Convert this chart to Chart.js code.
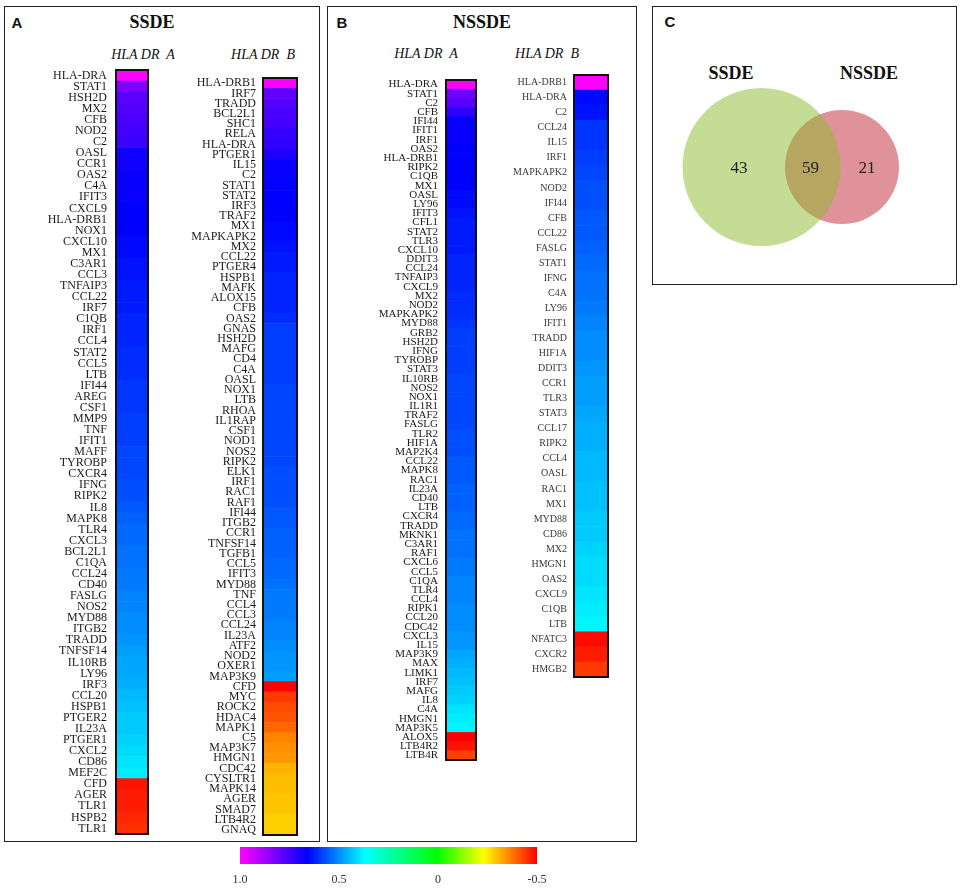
<!DOCTYPE html>
<html>
<head>
<meta charset="utf-8">
<script src="https://cdn.jsdelivr.net/npm/chart.js@4.4.1/dist/chart.umd.min.js"></script>
<style>
  html, body { margin: 0; padding: 0; background: #fff; }
  #fig { position: relative; width: 963px; height: 889px; overflow: hidden;
         font-family: 'Liberation Serif', 'Times New Roman', serif; color: #111; }
  .panel { position: absolute; border: 1.5px solid #222; box-sizing: border-box; }
  .txt { position: absolute; white-space: nowrap; transform: translate(-50%, -50%); }
  .letter { font-family: 'Liberation Sans', Arial, sans-serif; font-weight: bold; font-size: 15px; }
  .title { font-weight: bold; font-size: 18px; }
  .sub { font-style: italic; font-size: 14px; }
  .box { position: absolute; }
</style>
</head>
<body>
<div id="fig">
  <!-- panel frames -->
  <div class="panel" style="left:4px;top:6px;width:316px;height:836px"></div>
  <div class="panel" style="left:327px;top:6px;width:310px;height:836px"></div>
  <div class="panel" style="left:652px;top:6px;width:305px;height:279px"></div>

  <div class="txt letter" style="left:17px;top:22px">A</div>
  <div class="txt title"  style="left:152px;top:22px">SSDE</div>
  <div class="txt sub"    style="left:143px;top:55px">HLA DR&nbsp; A</div>
  <div class="txt sub"    style="left:263px;top:55px">HLA DR&nbsp; B</div>

  <div class="txt letter" style="left:342px;top:22px">B</div>
  <div class="txt title"  style="left:482px;top:22px">NSSDE</div>
  <div class="txt sub"    style="left:426px;top:54px">HLA DR&nbsp; A</div>
  <div class="txt sub"    style="left:547px;top:54px">HLA DR&nbsp; B</div>

  <div class="txt letter" style="left:670px;top:21px">C</div>
  <div class="txt title"  style="left:731px;top:73px">SSDE</div>
  <div class="txt title"  style="left:869px;top:73px">NSSDE</div>

  <div class="box" style="left:8px;top:68px;width:142px;height:768px"><canvas id="c-ssde-a"></canvas></div>
  <div class="box" style="left:150px;top:76px;width:149px;height:761px"><canvas id="c-ssde-b"></canvas></div>
  <div class="box" style="left:332px;top:78px;width:146px;height:684px"><canvas id="c-nssde-a"></canvas></div>
  <div class="box" style="left:480px;top:73px;width:130px;height:606px"><canvas id="c-nssde-b"></canvas></div>
  <div class="box" style="left:655px;top:80px;width:300px;height:174px"><canvas id="c-venn"></canvas></div>
  <div class="box" style="left:216px;top:846px;width:345px;height:43px"><canvas id="c-bar"></canvas></div>
</div>

<script>
const ssdeA_genes = ['HLA-DRA','STAT1','HSH2D','MX2','CFB','NOD2','C2','OASL','CCR1','OAS2','C4A','IFIT3',
  'CXCL9','HLA-DRB1','NOX1','CXCL10','MX1','C3AR1','CCL3','TNFAIP3','CCL22','IRF7','C1QB','IRF1','CCL4',
  'STAT2','CCL5','LTB','IFI44','AREG','CSF1','MMP9','TNF','IFIT1','MAFF','TYROBP','CXCR4','IFNG','RIPK2',
  'IL8','MAPK8','TLR4','CXCL3','BCL2L1','C1QA','CCL24','CD40','FASLG','NOS2','MYD88','ITGB2','TRADD',
  'TNFSF14','IL10RB','LY96','IRF3','CCL20','HSPB1','PTGER2','IL23A','PTGER1','CXCL2','CD86','MEF2C',
  'CFD','AGER','TLR1','HSPB2','TLR1'];
const ssdeA_values = [1.00,0.83,0.78,0.77,0.76,0.75,0.74,0.68,0.68,0.67,0.67,0.67,
  0.66,0.66,0.66,0.65,0.65,0.64,0.64,0.63,0.63,0.63,0.62,0.62,0.62,
  0.61,0.61,0.61,0.60,0.60,0.60,0.59,0.59,0.59,0.58,0.58,0.58,0.57,0.57,
  0.56,0.55,0.54,0.54,0.53,0.53,0.52,0.52,0.51,0.51,0.50,0.50,0.49,
  0.48,0.47,0.47,0.46,0.45,0.44,0.43,0.43,0.42,0.41,0.40,0.39,
  -0.48,-0.47,-0.47,-0.46,-0.45];

const ssdeB_genes = ['HLA-DRB1','IRF7','TRADD','BCL2L1','SHC1','RELA','HLA-DRA','PTGER1','IL15','C2',
  'STAT1','STAT2','IRF3','TRAF2','MX1','MAPKAPK2','MX2','CCL22','PTGER4','HSPB1','MAFK','ALOX15','CFB',
  'OAS2','GNAS','HSH2D','MAFG','CD4','C4A','OASL','NOX1','LTB','RHOA','IL1RAP','CSF1','NOD1','NOS2',
  'RIPK2','ELK1','IRF1','RAC1','RAF1','IFI44','ITGB2','CCR1','TNFSF14','TGFB1','CCL5','IFIT3','MYD88',
  'TNF','CCL4','CCL3','CCL24','IL23A','ATF2','NOD2','OXER1','MAP3K9','CFD','MYC','ROCK2','HDAC4',
  'MAPK1','C5','MAP3K7','HMGN1','CDC42','CYSLTR1','MAPK14','AGER','SMAD7','LTB4R2','GNAQ'];
const ssdeB_values = [1.00,0.79,0.77,0.76,0.75,0.73,0.72,0.70,0.67,0.67,
  0.66,0.66,0.66,0.66,0.65,0.65,0.64,0.63,0.63,0.62,0.62,0.62,0.62,
  0.61,0.59,0.59,0.59,0.59,0.59,0.59,0.58,0.58,0.58,0.58,0.58,0.58,0.58,
  0.58,0.57,0.57,0.57,0.57,0.56,0.56,0.55,0.55,0.55,0.54,0.54,0.53,
  0.52,0.52,0.52,0.51,0.51,0.50,0.49,0.49,0.48,-0.50,-0.44,-0.42,-0.41,
  -0.39,-0.36,-0.35,-0.34,-0.31,-0.30,-0.30,-0.29,-0.29,-0.28,-0.28];

const nssdeA_genes = ['HLA-DRA','STAT1','C2','CFB','IFI44','IFIT1','IRF1','OAS2','HLA-DRB1','RIPK2',
  'C1QB','MX1','OASL','LY96','IFIT3','CFL1','STAT2','TLR3','CXCL10','DDIT3','CCL24','TNFAIP3','CXCL9',
  'MX2','NOD2','MAPKAPK2','MYD88','GRB2','HSH2D','IFNG','TYROBP','STAT3','IL10RB','NOS2','NOX1','IL1R1',
  'TRAF2','FASLG','TLR2','HIF1A','MAP2K4','CCL22','MAPK8','RAC1','IL23A','CD40','LTB','CXCR4','TRADD',
  'MKNK1','C3AR1','RAF1','CXCL6','CCL5','C1QA','TLR4','CCL4','RIPK1','CCL20','CDC42','CXCL3','IL15',
  'MAP3K9','MAX','LIMK1','IRF7','MAFG','IL8','C4A','HMGN1','MAP3K5','ALOX5','LTB4R2','LTB4R'];
const nssdeA_values = [1.00,0.81,0.78,0.72,0.67,0.67,0.67,0.66,0.66,0.66,
  0.66,0.66,0.65,0.65,0.64,0.63,0.63,0.63,0.63,0.62,0.62,0.62,0.62,
  0.61,0.61,0.61,0.60,0.59,0.59,0.59,0.59,0.59,0.58,0.58,0.58,0.58,
  0.58,0.58,0.57,0.57,0.57,0.56,0.56,0.56,0.55,0.55,0.55,0.54,0.54,
  0.53,0.53,0.53,0.52,0.52,0.51,0.51,0.51,0.50,0.50,0.50,0.49,0.49,
  0.47,0.46,0.45,0.44,0.43,0.42,0.40,0.39,0.38,-0.50,-0.48,-0.43];

const nssdeB_genes = ['HLA-DRB1','HLA-DRA','C2','CCL24','IL15','IRF1','MAPKAPK2','NOD2','IFI44','CFB',
  'CCL22','FASLG','STAT1','IFNG','C4A','LY96','IFIT1','TRADD','HIF1A','DDIT3','CCR1','TLR3','STAT3',
  'CCL17','RIPK2','CCL4','OASL','RAC1','MX1','MYD88','CD86','MX2','HMGN1','OAS2','CXCL9','C1QB','LTB',
  'NFATC3','CXCR2','HMGB2'];
const nssdeB_values = [1.00,0.65,0.64,0.60,0.60,0.59,0.58,0.57,0.57,0.56,
  0.56,0.55,0.54,0.53,0.53,0.52,0.51,0.50,0.50,0.49,0.48,0.48,0.47,
  0.46,0.46,0.45,0.45,0.44,0.44,0.43,0.43,0.42,0.41,0.41,0.40,0.39,0.38,
  -0.49,-0.47,-0.44];

const scaleTicks = [1.0, 0.5, 0, -0.5];

const vennSets = ['SSDE', 'NSSDE'];
const vennOnly = [43, 21];
const vennShared = [59];

/* ---------- colour scale: magenta (1.0) -> blue -> cyan -> green (0) -> yellow -> red (-0.5) ---------- */
const CMAP = [
  [1.0,  [255, 0, 255]],
  [0.66, [0, 0, 255]],
  [0.37, [0, 255, 255]],
  [0,    [0, 255, 0]],
  [-0.23,[255, 255, 0]],
  [-0.5, [255, 0, 0]],
];
function colorFor(v) {
  for (let i = 0; i < CMAP.length - 1; i++) {
    const [v0, c0] = CMAP[i], [v1, c1] = CMAP[i + 1];
    if (v <= v0 && v >= v1) {
      const t = (v0 - v) / (v0 - v1);
      const c = c0.map((x, k) => Math.round(x + (c1[k] - x) * t));
      return `rgb(${c[0]},${c[1]},${c[2]})`;
    }
  }
  const c = v > 1 ? CMAP[0][1] : CMAP[CMAP.length - 1][1];
  return `rgb(${c[0]},${c[1]},${c[2]})`;
}

const SERIF = "'Liberation Serif','Times New Roman',serif";

// drop the extra room Chart.js keeps for half of the first/last tick label
const noLabelPadding = (s) => { s.paddingTop = 0; s.paddingBottom = 0; s.paddingLeft = 0; s.paddingRight = 0; };

/* black frame round each heat column */
const frame = {
  id: 'frame',
  afterDatasetsDraw(chart) {
    const { ctx, chartArea: a } = chart;
    ctx.save();
    ctx.lineWidth = 2;
    ctx.strokeStyle = '#111';
    ctx.strokeRect(a.left, a.top, a.right - a.left, a.bottom - a.top);
    ctx.restore();
  }
};

function heatColumn(id, genes, values, o) {
  return new Chart(document.getElementById(id), {
    type: 'bar',
    data: {
      labels: genes,
      datasets: [{
        data: values.map(() => [0, 1]),          // every cell spans the full column width
        backgroundColor: values.map(colorFor),
        borderWidth: 0,
        barPercentage: 1,
        categoryPercentage: 1,
      }],
    },
    options: {
      indexAxis: 'y',
      responsive: true, maintainAspectRatio: false,
      animation: false, events: [],
      layout: { padding: { top: 2, bottom: 2, right: 2, left: 0 } },
      plugins: { legend: { display: false }, tooltip: { enabled: false } },
      scales: {
        x: { display: false, min: 0, max: 1 },
        y: {
          grid: { display: false, drawTicks: false },
          border: { display: false },
          ticks: { autoSkip: false, padding: o.pad, color: o.color,
                   font: { family: SERIF, size: o.size } },
          afterFit: (s) => { s.width = o.axis; noLabelPadding(s); },
        },
      },
    },
    plugins: [frame],
  });
}

heatColumn('c-ssde-a',  ssdeA_genes,  ssdeA_values,  { axis: 108, pad: 9, size: 12, color: '#1a1a1a' });
heatColumn('c-ssde-b',  ssdeB_genes,  ssdeB_values,  { axis: 113, pad: 7, size: 12, color: '#1a1a1a' });
heatColumn('c-nssde-a', nssdeA_genes, nssdeA_values, { axis: 114, pad: 8, size: 11, color: '#1a1a1a' });
heatColumn('c-nssde-b', nssdeB_genes, nssdeB_values, { axis: 94,  pad: 7, size: 10, color: '#3a3a3a' });

/* ---------- Venn (panel C) ---------- */
const VENN_X = [0, 1];                 // set centres on the hidden x scale
const VENN_LABEL_X = [-0.28, 0.61, 1.31];
const vennLabels = {
  id: 'vennLabels',
  afterDatasetsDraw(chart) {
    const { ctx, scales: { x, y } } = chart;
    const texts = [vennOnly[0], vennShared[0], vennOnly[1]];
    ctx.save();
    ctx.font = "17px " + SERIF;
    ctx.fillStyle = '#222';
    ctx.textAlign = 'center';
    ctx.textBaseline = 'middle';
    texts.forEach((t, i) => ctx.fillText(String(t), x.getPixelForValue(VENN_LABEL_X[i]), y.getPixelForValue(0) + 2));
    ctx.restore();
  }
};
new Chart(document.getElementById('c-venn'), {
  type: 'bubble',
  data: {
    datasets: [
      { label: vennSets[0], data: [{ x: VENN_X[0], y: 0 }], backgroundColor: 'rgba(139,185,41,0.5)',
        borderWidth: 0, radius: 79, order: 0, clip: false },
      { label: vennSets[1], data: [{ x: VENN_X[1], y: 0 }], backgroundColor: 'rgb(224,146,154)',
        borderWidth: 0, radius: 57, order: 1, clip: false },
    ],
  },
  options: {
    responsive: true, maintainAspectRatio: false,
    animation: false, events: [],
    layout: { padding: 0, autoPadding: false },
    plugins: { legend: { display: false }, tooltip: { enabled: false } },
    scales: {
      x: { display: false, min: -1.323, max: 2.404 },
      y: { display: false, min: -1, max: 1 },
    },
  },
  plugins: [vennLabels],
});

/* ---------- colour bar ---------- */
new Chart(document.getElementById('c-bar'), {
  type: 'bar',
  data: {
    labels: ['scale'],
    datasets: [{
      data: [[scaleTicks[scaleTicks.length - 1], scaleTicks[0]]],
      backgroundColor: (c) => {
        const chart = c.chart, a = chart.chartArea;
        if (!a) return '#fff';
        const xs = chart.scales.x;
        const g = chart.ctx.createLinearGradient(a.left, 0, a.right, 0);
        CMAP.forEach(([v, rgb]) => {
          const off = (xs.getPixelForValue(v) - a.left) / (a.right - a.left);
          g.addColorStop(Math.min(1, Math.max(0, off)), `rgb(${rgb[0]},${rgb[1]},${rgb[2]})`);
        });
        return g;
      },
      borderWidth: 0,
      barPercentage: 1,
      categoryPercentage: 1,
    }],
  },
  options: {
    indexAxis: 'y',
    responsive: true, maintainAspectRatio: false,
    animation: false, events: [],
    layout: { padding: { top: 1, bottom: 0, left: 24, right: 24 }, autoPadding: false },
    plugins: { legend: { display: false }, tooltip: { enabled: false } },
    scales: {
      y: { display: false },
      x: {
        min: -0.5, max: 1, reverse: true,
        grid: { display: false, drawTicks: false },
        border: { display: false },
        afterBuildTicks: (s) => { s.ticks = scaleTicks.map((v) => ({ value: v })); },
        ticks: {
          padding: 9, color: '#333', font: { family: SERIF, size: 12 },
          callback: (v) => (v === 0 ? '0' : Number(v).toFixed(1)),
        },
        afterFit: (s) => { s.height = 25; noLabelPadding(s); },
      },
    },
  },
});
</script>
</body>
</html>
